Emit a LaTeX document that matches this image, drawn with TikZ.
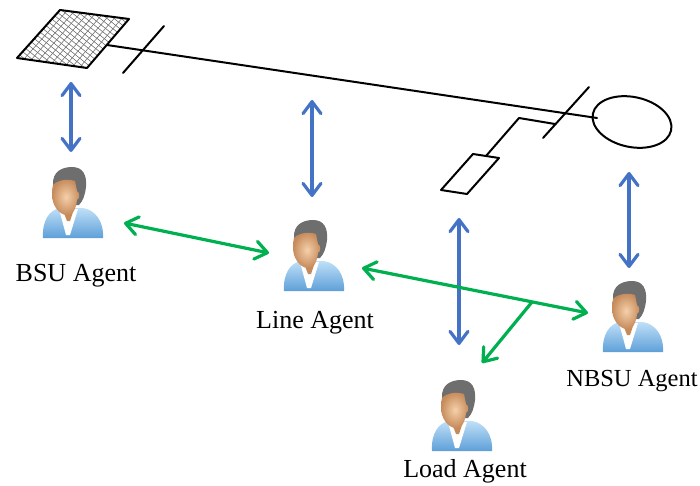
\documentclass[tikz,border=0pt]{standalone}
\usepackage{fontspec}
\setmainfont{Liberation Serif}
\usetikzlibrary{arrows.meta,calc,shapes.geometric}

\definecolor{linkblue}{HTML}{4472C4}
\definecolor{linkgreen}{HTML}{00B050}
\definecolor{bodylight}{HTML}{BFE0F8}
\definecolor{bodydark}{HTML}{5E9FD8}
\definecolor{skinlight}{HTML}{F5D0AA}
\definecolor{skindark}{HTML}{C68B5B}
\definecolor{hairgray}{HTML}{6E6E6E}

\tikzset{
  x=1pt, y=-1pt,
  wire/.style={line width=2pt, black, line cap=round, line join=round},
  meshline/.style={line width=0.6pt, black!55},
  barb/.tip={Straight Barb[length=12pt,width=18pt,line cap=round,line join=round]},
  bluelink/.style={draw=linkblue, line width=3.2pt, barb-barb},
  greenlink/.style={draw=linkgreen, line width=3.2pt, barb-barb},
  greenfeed/.style={draw=linkgreen, line width=3.2pt, -barb},
  agentname/.style={font=\fontsize{26}{30}\selectfont, inner sep=0pt, anchor=base},
  agent/.pic={
    % shoulders
    \shade[top color=bodylight, bottom color=bodydark]
      (-30,35) .. controls (-31,18) and (-24,7) .. (-13,5) -- (10,5)
      .. controls (22,7) and (31,18) .. (30,35) -- cycle;
    % shirt
    \fill[white] (-14,6) -- (5,6) -- (-3,32) -- (-7,32) -- cycle;
    % neck
    \fill[skindark] (-13,0) -- (3,0) -- (-3,18) -- (-6,18) -- cycle;
    % hair
    \fill[hairgray] (-20,-18) .. controls (-21,-32) and (-10,-36) .. (-1,-36)
      .. controls (10,-36) and (14,-28) .. (13,-16)
      .. controls (12,-8) and (10,-2) .. (6,2) -- (-6,2) -- cycle;
    % face
    \shade[inner color=skinlight, outer color=skindark]
      (-20,-18) .. controls (-14,-24) and (-4,-24) .. (2,-22) -- (4,-12)
      .. controls (7,-10) and (7,-5) .. (4,-3)
      .. controls (3,6) and (0,12) .. (-6,12)
      .. controls (-14,12) and (-21,2) .. (-21,-8)
      .. controls (-21,-12) and (-21,-15) .. (-20,-18) -- cycle;
  }
}

\begin{document}
\begin{tikzpicture}
\useasboundingbox (0,0) rectangle (700,486);

% ---- one-line diagram ----
\coordinate (bsuTL) at (60,10);
\coordinate (bsuTR) at (129,19);
\coordinate (bsuBR) at (87,68);
\coordinate (bsuBL) at (17,58);
\begin{scope}
  \clip (bsuTL) -- (bsuTR) -- (bsuBR) -- (bsuBL) -- cycle;
  \fill[white] (bsuTL) -- (bsuTR) -- (bsuBR) -- (bsuBL) -- cycle;
  \foreach \s in {0.1,0.2,...,0.95} {
    \draw[meshline] ($(bsuTL)!\s!(bsuTR)$) -- ($(bsuBL)!\s!(bsuBR)$);
  }
  \foreach \k in {-70,-63,...,130} {
    \draw[meshline] (\k,0) -- ++(90,72);
  }
\end{scope}
\draw[wire] (bsuTL) -- (bsuTR) -- (bsuBR) -- (bsuBL) -- cycle;

\node[draw, line width=2pt, ellipse, minimum width=80pt, minimum height=50pt,
      inner sep=0pt, rotate=-12] (gen) at (632,122) {};

\coordinate (busstart) at (107,45);
\coordinate (busend) at (597,118);
\draw[wire] (busstart) -- (busend);

\coordinate (tickAa) at (123,73);
\coordinate (tickAb) at (164,26);
\draw[wire] (tickAa) -- (tickAb);

\coordinate (tickBa) at (543,138);
\coordinate (tickBb) at (589,87);
\draw[wire] (tickBa) -- (tickBb);

\coordinate (loadTL) at (473,154);
\coordinate (loadTR) at (499,158);
\coordinate (loadBR) at (467,194);
\coordinate (loadBL) at (441,190);
\draw[wire] (loadTL) -- (loadTR) -- (loadBR) -- (loadBL) -- cycle;

\coordinate (tapA) at (555,124);
\coordinate (tapB) at (519,118);
\draw[wire] (tapA) -- (tapB) -- ($(loadTL)!0.5!(loadTR)$);

% ---- agents ----
\pic (bsuagent) at (73,203) {agent};
\pic (lineagent) at (314,256) {agent};
\pic (loadagent) at (462,416) {agent};
\pic (nbsuagent) at (633,317) {agent};

\node[agentname] (bsuname) at (76,281) {BSU Agent};
\node[agentname] (linename) at (315,328) {Line Agent};
\node[agentname] (loadname) at (465,477) {Load Agent};
\node[agentname, font=\fontsize{24.5}{28}\selectfont] (nbsuname) at (632,386) {NBSU Agent};

% ---- vertical links between devices and agents ----
\coordinate (bsuup) at (71,82);     \coordinate (bsudown) at (71,152);
\coordinate (lineup) at (312,100);  \coordinate (linedown) at (312,197);
\coordinate (loadup) at (459,218);  \coordinate (loaddown) at (459,345);
\coordinate (nbsuup) at (629,172);  \coordinate (nbsudown) at (629,268);
\draw[bluelink] (bsuup) -- (bsudown);
\draw[bluelink] (lineup) -- (linedown);
\draw[bluelink] (loadup) -- (loaddown);
\draw[bluelink] (nbsuup) -- (nbsudown);

% ---- agent-to-agent links ----
\coordinate (bsuright) at (124,223);  \coordinate (lineleft) at (269,253);
\coordinate (lineright) at (362,268); \coordinate (nbsuleft) at (588,313);
\coordinate (branch) at (532,302);    \coordinate (loadtop) at (482,363);
\draw[greenlink] (bsuright) -- (lineleft);
\draw[greenlink] (lineright) -- (nbsuleft);
\draw[greenfeed] (branch) -- (loadtop);
\end{tikzpicture}
\end{document}
